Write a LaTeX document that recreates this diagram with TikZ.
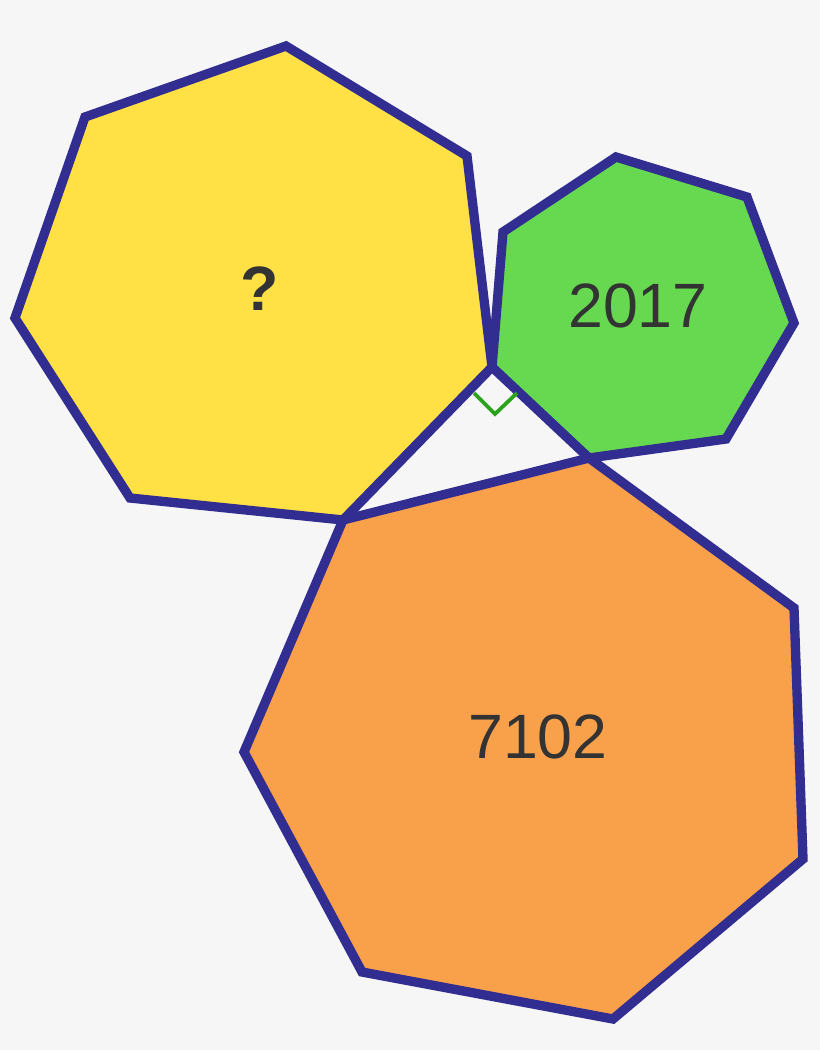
\documentclass[tikz,border=0pt]{standalone}
\usepackage{fontspec}
\setmainfont{Liberation Sans}
\definecolor{bgray}{RGB}{246,246,247}
\definecolor{hepblue}{RGB}{50,45,145}
\definecolor{hepyellow}{RGB}{255,224,69}
\definecolor{hepgreen}{RGB}{102,217,80}
\definecolor{heporange}{RGB}{249,160,74}
\definecolor{markgreen}{RGB}{42,163,26}
\definecolor{numgray}{RGB}{51,51,51}
\tikzset{every picture/.style={line width=0.75pt}}
\tikzset{
  hept/.style={draw=hepblue, line width=7pt, line join=miter},
  numlabel/.style={text=numgray, font=\fontsize{47}{50}\selectfont, inner sep=0pt}
}
\begin{document}
\begin{tikzpicture}[x=0.75pt,y=0.75pt,yscale=-1,xscale=1]
	\useasboundingbox (0,0) rectangle (820,1050);
	\fill [bgray] (0,0) rectangle (820,1050);

	% shared corners of the right triangle
	\coordinate (A) at (492,367);
	\coordinate (B) at (343,520);
	\coordinate (C) at (589,458);

	%Shape: Heptagon (yellow)
	\draw [hept, fill=hepyellow] (A) -- (B) -- (130,498) -- (15,318) -- (85,117) -- (286,46) -- (467,156) -- cycle ;
	%Shape: Heptagon (green)
	\draw [hept, fill=hepgreen] (A) -- (503,232) -- (616,157) -- (747,197) -- (794,323) -- (726,439) -- (C) -- cycle ;
	%Shape: Heptagon (orange)
	\draw [hept, fill=heporange] (B) -- (C) -- (794,608) -- (803,859) -- (613,1019) -- (362,972) -- (244,752) -- cycle ;

	%Right angle mark
	\draw [color=markgreen, line width=2.8pt] (474,393) -- (495,414) -- (517,393) ;

	% Text Node
	\node [numlabel, font=\fontsize{47}{50}\selectfont\bfseries] (unknown) at (260,289) {?};
	% Text Node
	\node [numlabel] (small) at (638,306) {2017};
	% Text Node
	\node [numlabel] (big) at (538,737) {7102};

\end{tikzpicture}
\end{document}
